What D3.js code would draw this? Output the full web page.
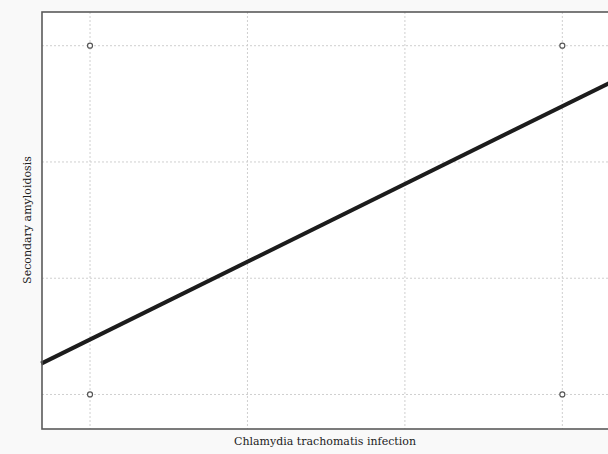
<!DOCTYPE html>
<html>
<head>
<meta charset="utf-8">
<script src="https://cdn.jsdelivr.net/npm/d3@7"></script>
<style>
  html, body { margin: 0; padding: 0; background: #f9f9f9; }
  svg { display: block; }
</style>
</head>
<body>
<div id="chart"></div>
<script>
// ── Data ─────────────────────────────────────────
var xTicks = [0, 1, 2, 3];
var yTicks = [0, 1, 2, 3];
var pointsX = [0, 3, 0, 3];
var pointsY = [0, 0, 3, 3];
var fitX = [-0.31, 3.3];
var fitY = [0.265, 2.68];
var xTitle = "Chlamydia trachomatis infection";
var yTitle = "Secondary amyloidosis";

var W = 608, H = 454;
var margin = { top: 12, right: -14, bottom: 25, left: 42 };
var iW = W - margin.left - margin.right;
var iH = H - margin.top - margin.bottom;

var svg = d3.select("#chart").append("svg").attr("width", W).attr("height", H);
svg.append("rect").attr("width", W).attr("height", H).attr("fill", "#f9f9f9");

var g = svg.append("g").attr("transform", "translate(" + margin.left + "," + margin.top + ")");

// Scales
var xScale = d3.scaleLinear().domain([-0.305, 3.29 + 14 / 157.3]).range([0, iW]);
var yScale = d3.scaleLinear().domain([-0.297, 3.29]).range([iH, 0]);

g.append("rect").attr("width", iW).attr("height", iH).attr("fill", "#ffffff");

// Grid
g.selectAll(".vgrid").data(xTicks).join("line").attr("class", "vgrid")
  .attr("x1", function (d) { return xScale(d); }).attr("x2", function (d) { return xScale(d); })
  .attr("y1", 0).attr("y2", iH)
  .attr("stroke", "#cfcfcf").attr("stroke-width", 1).attr("stroke-dasharray", "2,2");
g.selectAll(".hgrid").data(yTicks).join("line").attr("class", "hgrid")
  .attr("y1", function (d) { return yScale(d); }).attr("y2", function (d) { return yScale(d); })
  .attr("x1", 0).attr("x2", iW)
  .attr("stroke", "#cfcfcf").attr("stroke-width", 1).attr("stroke-dasharray", "2,2");

// Fit line
var fit = fitX.map(function (x, i) { return [x, fitY[i]]; });
g.append("path").datum(fit)
  .attr("d", d3.line().x(function (d) { return xScale(d[0]); }).y(function (d) { return yScale(d[1]); }))
  .attr("fill", "none").attr("stroke", "#1c1c1c").attr("stroke-width", 4);

// Points
g.selectAll(".pt").data(pointsX).join("circle").attr("class", "pt")
  .attr("cx", function (d) { return xScale(d); })
  .attr("cy", function (d, i) { return yScale(pointsY[i]); })
  .attr("r", 2.5).attr("fill", "#fff").attr("stroke", "#555").attr("stroke-width", 1.2);

// Frame
g.append("rect").attr("width", iW).attr("height", iH)
  .attr("fill", "none").attr("stroke", "#5a5a5a").attr("stroke-width", 1.6);

// Titles
svg.append("text").attr("x", 325).attr("y", 445).attr("text-anchor", "middle")
  .attr("font-family", "DejaVu Serif").attr("font-size", 11).attr("fill", "#222").text(xTitle);
svg.append("text").attr("transform", "translate(31,220) rotate(-90)").attr("text-anchor", "middle")
  .attr("font-family", "DejaVu Serif").attr("font-size", 11).attr("fill", "#222").text(yTitle);
</script>
</body>
</html>
